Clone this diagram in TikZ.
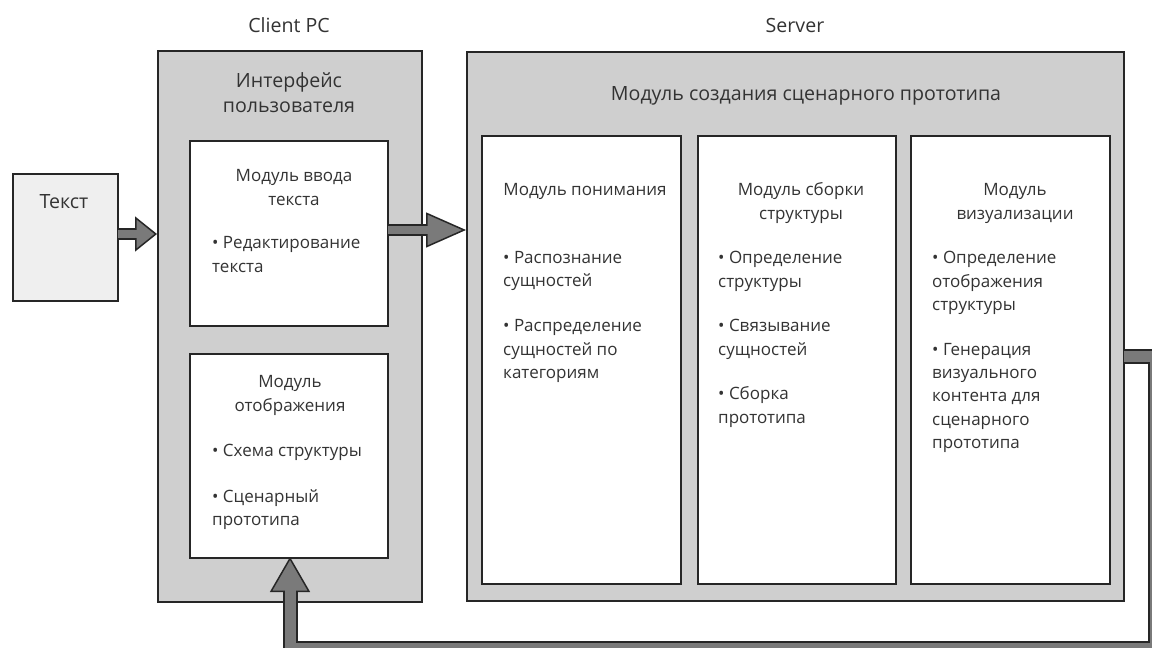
\documentclass[tikz,border=0pt]{standalone}
\usepackage{fontspec}
\setmainfont{Open Sans}
\usetikzlibrary{arrows.meta}
\definecolor{boxgray}{HTML}{CFCFCF}
\definecolor{textboxgray}{HTML}{EFEFEF}
\definecolor{arrowgray}{HTML}{7A7A7A}
\definecolor{txt}{HTML}{333333}
\definecolor{edge}{HTML}{262626}
\newcommand\txtline[4]{\node[lbl,anchor=#2] (#1) at (#3) {#4};}
\newcommand\bigline[4]{\node[lblbig,anchor=#2] (#1) at (#3) {#4};}
\begin{document}
\begin{tikzpicture}[x=1pt,y=-1pt,
  container/.style={draw=edge, line width=2pt, fill=boxgray, anchor=north west, inner sep=0pt},
  module/.style={draw=edge, line width=2pt, fill=white, anchor=north west, inner sep=0pt},
  srcbox/.style={draw=edge, line width=2pt, fill=textboxgray, anchor=north west, inner sep=0pt},
  lbl/.style={text=txt, font=\fontsize{17}{23.5}\selectfont, inner sep=0pt},
  lblbig/.style={text=txt, font=\fontsize{19.6}{25}\selectfont, inner sep=0pt},
  headtip/.style={draw=edge, line width=1.5pt},
  shaftout/.style={draw=edge, line width=12pt, line join=miter},
  shaftin/.style={draw=arrowgray, line width=8pt, line join=miter},
]
\useasboundingbox (0,0) rectangle (1152,648);
\fill[white] (0,0) rectangle (1152,648);

% boxes
\node[srcbox, minimum width=105pt, minimum height=127pt] (tb) at (12,173) {};
\node[container, minimum width=264pt, minimum height=551pt] (client) at (157,50) {};
\node[module, minimum width=198pt, minimum height=185pt] (input) at (189,140) {};
\node[module, minimum width=198pt, minimum height=204pt] (display) at (189,353) {};
\node[container, minimum width=657pt, minimum height=549pt] (server) at (466,51) {};
\node[module, minimum width=199pt, minimum height=448pt] (underst) at (481,135) {};
\node[module, minimum width=198pt, minimum height=448pt] (assembly) at (697,135) {};
\node[module, minimum width=199pt, minimum height=448pt] (visual) at (910,135) {};

% arrow 1: Text -> client
\coordinate (a1s) at (117,234);
\coordinate (a1e) at (157,234);
\draw[headtip, -{Triangle[length=22pt,width=35pt,fill=arrowgray,line width=1.5pt]}] (a1s) -- (a1e);
\draw[shaftout, shorten >=22pt] (a1s) -- (a1e);
\draw[shaftin, shorten >=19pt, shorten <=1pt] (a1s) -- (a1e);

% arrow 2: input -> server
\coordinate (a2s) at (387,230);
\coordinate (a2e) at (466,230);
\draw[headtip, -{Triangle[length=40pt,width=35pt,fill=arrowgray,line width=1.5pt]}] (a2s) -- (a2e);
\draw[shaftout, shorten >=40pt] (a2s) -- (a2e);
\draw[shaftin, shorten >=37pt, shorten <=1pt] (a2s) -- (a2e);

% feedback arrow: server -> display
\coordinate (fbs) at (1123,356);
\coordinate (fbr) at (1155,648);
\coordinate (fbe) at (290,557);
\draw[headtip, -{Triangle[length=35pt,width=40pt,fill=arrowgray,line width=1.5pt]}] (fbs) -| (fbr) -| (fbe);
\draw[shaftout, line width=15pt, shorten >=35pt] (fbs) -| (fbr) -| (fbe);
\draw[shaftin, line width=11pt, shorten >=32pt, shorten <=1pt] (fbs) -| (fbr) -| (fbe);

% headings
\bigline{lclient}{base}{289,32}{Client PC}
\bigline{lserver}{base}{795,32}{Server}
\bigline{ltext}{base}{64,208}{Текст}
\bigline{lui1}{base}{289,87}{Интерфейс}
\bigline{lui2}{base}{289,112}{пользователя}
\bigline{lsrv}{base}{806,100}{Модуль создания сценарного прототипа}

% input module
\txtline{in1}{base}{294,181}{Модуль ввода}
\txtline{in2}{base}{294,205}{текста}
\txtline{in3}{base west}{212,248}{• Редактирование}
\txtline{in4}{base west}{212,272}{текста}

% display module
\txtline{di1}{base}{290,387}{Модуль}
\txtline{di2}{base}{290,411}{отображения}
\txtline{di3}{base west}{212,456}{• Схема структуры}
\txtline{di4}{base west}{212,502}{• Сценарный}
\txtline{di5}{base west}{212,525}{прототипа}

% understanding module
\txtline{un1}{base}{585,195}{Модуль понимания}
\txtline{un2}{base west}{503,263}{• Распознание}
\txtline{un3}{base west}{503,286}{сущностей}
\txtline{un4}{base west}{503,331}{• Распределение}
\txtline{un5}{base west}{503,355}{сущностей по}
\txtline{un6}{base west}{503,378}{категориям}

% assembly module
\txtline{as1}{base}{801,195}{Модуль сборки}
\txtline{as2}{base}{801,219}{структуры}
\txtline{as3}{base west}{718,263}{• Определение}
\txtline{as4}{base west}{718,287}{структуры}
\txtline{as5}{base west}{718,331}{• Связывание}
\txtline{as6}{base west}{718,355}{сущностей}
\txtline{as7}{base west}{718,399}{• Сборка}
\txtline{as8}{base west}{718,423}{прототипа}

% visualization module
\txtline{vi1}{base}{1015,195}{Модуль}
\txtline{vi2}{base}{1015,219}{визуализации}
\txtline{vi3}{base west}{932,263}{• Определение}
\txtline{vi4}{base west}{932,287}{отображения}
\txtline{vi5}{base west}{932,310}{структуры}
\txtline{vi6}{base west}{932,355}{• Генерация}
\txtline{vi7}{base west}{932,378}{визуального}
\txtline{vi8}{base west}{932,401}{контента для}
\txtline{vi9}{base west}{932,425}{сценарного}
\txtline{vi10}{base west}{932,448}{прототипа}
\end{tikzpicture}
\end{document}
